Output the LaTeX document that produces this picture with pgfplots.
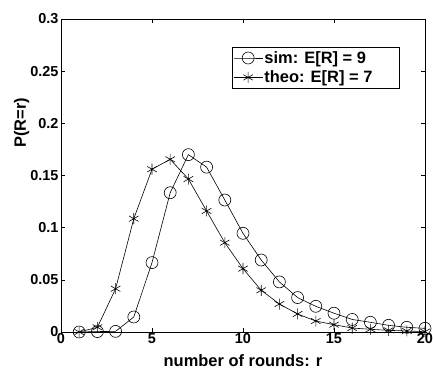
\documentclass[border=0pt]{standalone}
\usepackage{fontspec}
\setmainfont{Liberation Sans}[BoldFont={Liberation Sans Bold}]
\usepackage{pgfplots}
\pgfplotsset{compat=1.18}
\newcommand\tlf[1]{\mbox{\fontsize{14.5}{17}\selectfont\bfseries #1}}
\begin{document}
\begin{tikzpicture}
\begin{axis}[
  name=ax,
  scale only axis, width=364bp, height=313bp,
  xmin=0, xmax=20, ymin=0, ymax=0.3,
  xtick={0,5,10,15,20}, ytick={0,0.05,0.1,0.15,0.2,0.25,0.3},
  xticklabels={\tlf{0},\tlf{5},\tlf{10},\tlf{15},\tlf{20}},
  yticklabels={\tlf{0},\tlf{0.05},\tlf{0.1},\tlf{0.15},\tlf{0.2},\tlf{0.25},\tlf{0.3}},
  tick align=inside, tick pos=both,
  major tick length=4bp,
  axis line style={line width=0.8bp},
  every tick/.style={black, line width=0.6bp},
  xticklabel style={yshift=2bp},
  yticklabel style={xshift=1bp},
  label style={font=\fontsize{16.5}{19}\selectfont\bfseries},
  xlabel={number of rounds: r}, ylabel={P(R=r)},
  xlabel style={at={(axis description cs:0.5,0)}, anchor=base, yshift=-34bp},
  ylabel style={at={(axis description cs:-0.108,0.668)}, anchor=center},
  legend style={at={(0.470,0.9105)}, anchor=north west, draw=black, line width=0.6bp,
    font=\fontsize{16.5}{19}\selectfont\bfseries, inner xsep=1bp, inner ysep=2bp, row sep=2bp,
    nodes={inner xsep=1.5bp},
    cells={anchor=west}},
  legend cell align=left,
  legend image code/.code={\draw[#1, mark repeat=2, mark phase=2] plot coordinates {(0bp,0bp)(14.5bp,0bp)(29bp,0bp)};},
]
\addplot[black, line width=0.6bp, mark=o, mark size=6bp, mark options={line width=0.6bp}] coordinates {
(1,0)(2,0.0004)(3,0.0006)(4,0.0144)(5,0.0665)(6,0.1335)(7,0.170)(8,0.158)(9,0.1265)(10,0.0946)
(11,0.069)(12,0.048)(13,0.033)(14,0.0246)(15,0.018)(16,0.012)(17,0.0093)(18,0.0064)(19,0.0045)(20,0.0035)};
\addlegendentry{sim: E[R] = 9}
\addplot[black, line width=0.6bp, mark=asterisk, mark size=5.5bp, mark options={line width=0.6bp}] coordinates {
(1,0)(2,0.0045)(3,0.0415)(4,0.1086)(5,0.156)(6,0.1655)(7,0.1466)(8,0.116)(9,0.0856)(10,0.0607)
(11,0.040)(12,0.0268)(13,0.0173)(14,0.0105)(15,0.007)(16,0.0038)(17,0.0026)(18,0.0016)(19,0.001)(20,0.0003)};
\addlegendentry{theo: E[R] = 7\rule{24bp}{0pt}}
\end{axis}
\pgfresetboundingbox
\path (ax.south west) ++(-61bp,-36bp) coordinate (bl);
\path (ax.north east) ++(8bp,19bp) coordinate (tr);
\useasboundingbox (bl) rectangle (tr);
\end{tikzpicture}
\end{document}
